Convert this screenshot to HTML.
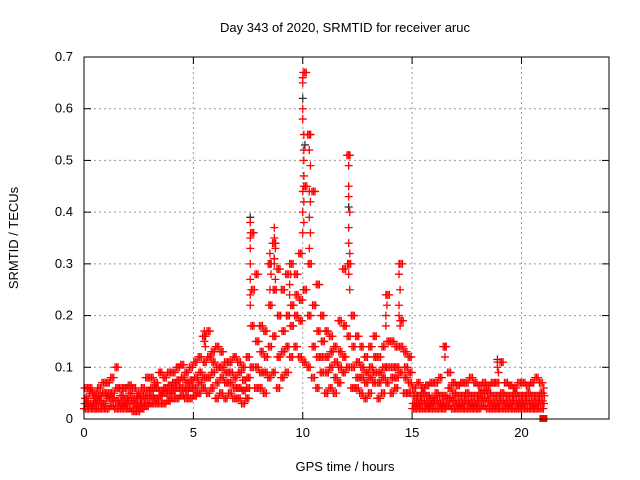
<!DOCTYPE html>
<html><head><meta charset="utf-8"><style>
body{margin:0;background:#fff}
svg{display:block;font-family:"Liberation Sans",sans-serif;font-size:12px}
</style></head><body>
<svg id="chart" width="640" height="480">
<text x="345" y="32" text-anchor="middle" font-size="13">Day 343 of 2020, SRMTID for receiver aruc</text>
<text x="345" y="471" text-anchor="middle" font-size="13">GPS time / hours</text>
<text transform="translate(18,238) rotate(-90)" text-anchor="middle" font-size="13">SRMTID / TECUs</text>
<g id="grid"></g><g id="ticks"></g><g id="marks"></g>
<rect x="84" y="57" width="525" height="362" fill="none" stroke="#000" stroke-width="1"/>
</svg>
<script>
const xTicks=[0,5,10,15,20];
const yTicks=[0,0.1,0.2,0.3,0.4,0.5,0.6,0.7];
const yTickLabels=["0","0.1","0.2","0.3","0.4","0.5","0.6","0.7"];
const binStart=0, binStep=0.2;
const lo=[.02,.02,.02,.02,.02,.02,.025,.02,.02,.02,.02,.015,.015,.02,.025,.03,.03,.03,.03,.035,.04,.04,.045,.04,.04,.045,.05,.06,.05,.06,.04,.05,.04,.05,.04,.04,.03,.04,.10,.06,.06,.05,.08,.09,.06,.08,.09,.12,.14,.12,.11,.1,.08,.06,.09,.05,.06,.05,.07,.09,.1,.06,.06,.05,.04,.05,.07,.04,.05,.07,.05,.06,.09,.05,.05,.02,.02,.02,.02,.02,.02,.02,.02,.025,.02,.02,.02,.02,.02,.02,.02,.025,.02,.02,.02,.02,.02,.02,.02,.02,.02,.02,.02,.02,.02,.02];
const m1=[.03,.03,.03,.035,.03,.04,.04,.035,.03,.03,.035,.03,.025,.03,.04,.045,.04,.045,.05,.05,.055,.06,.06,.055,.06,.06,.07,.08,.08,.09,.07,.08,.07,.07,.06,.06,.055,.06,.18,.10,.09,.09,.14,.16,.12,.13,.14,.18,.2,.19,.25,.2,.14,.12,.12,.09,.1,.08,.1,.12,.16,.1,.08,.08,.07,.08,.09,.07,.08,.1,.08,.08,.14,.08,.07,.03,.03,.035,.03,.03,.035,.03,.03,.04,.035,.03,.03,.035,.03,.03,.035,.04,.035,.03,.03,.035,.03,.03,.035,.03,.03,.035,.03,.03,.035,.03];
const m2=[.04,.05,.04,.045,.05,.05,.05,.06,.045,.04,.05,.04,.04,.045,.055,.06,.06,.055,.06,.065,.07,.075,.08,.07,.075,.08,.09,.11,.12,.11,.10,.10,.09,.09,.08,.09,.075,.08,.25,.15,.13,.12,.22,.25,.2,.17,.2,.22,.24,.23,.45,.3,.22,.17,.15,.12,.13,.11,.13,.18,.3,.14,.11,.1,.09,.1,.12,.09,.1,.15,.1,.1,.19,.1,.09,.045,.045,.05,.045,.04,.05,.045,.045,.06,.05,.045,.045,.05,.045,.045,.05,.055,.05,.045,.045,.05,.045,.045,.05,.045,.045,.05,.045,.045,.05,.045];
const hi=[.06,.06,.05,.06,.07,.07,.08,.10,.06,.06,.065,.06,.05,.06,.08,.08,.07,.09,.08,.09,.09,.10,.105,.09,.10,.11,.12,.16,.17,.13,.14,.13,.11,.11,.12,.11,.10,.12,.36,.28,.18,.17,.30,.34,.29,.25,.28,.30,.28,.32,.67,.55,.44,.26,.2,.17,.16,.14,.19,.29,.51,.2,.16,.14,.12,.14,.16,.12,.14,.24,.15,.14,.30,.13,.12,.06,.07,.06,.065,.07,.07,.08,.14,.09,.07,.065,.07,.07,.08,.07,.065,.07,.065,.07,.07,.11,.07,.065,.06,.07,.07,.065,.07,.08,.07,.06];
const spikeT=[7.6,7.6,7.6,7.6,7.6,7.6,7.6,10.0,10.0,10.0,10.0,10.05,10.05,10.05,10.05,10.0,10.05,10.0,10.05,10.0,10.3,10.3,10.35,10.3,10.35,10.3,10.35,10.3,12.1,12.1,12.1,12.1,12.15,12.1,12.1,12.15,12.1,12.1,12.15,14.4,14.4,14.45,14.4,14.4,14.45,13.8,13.85,13.8,13.8,8.7,8.7,8.75,8.7,8.7,8.75,8.5,8.5,8.55,8.5,9.4,9.45,9.4,9.4,5.5,5.55,5.5,5.55,16.5,16.5,18.9,18.9,18.95];
const spikeV=[.38,.35,.33,.3,.27,.24,.22,.66,.65,.6,.58,.55,.52,.5,.47,.44,.42,.4,.38,.36,.55,.52,.49,.44,.42,.39,.36,.33,.51,.49,.45,.43,.4,.37,.34,.32,.3,.28,.25,.3,.28,.25,.22,.2,.18,.24,.22,.2,.18,.37,.35,.33,.31,.3,.27,.32,.3,.28,.25,.3,.28,.26,.24,.17,.16,.15,.14,.14,.12,.11,.1,.09];
const darkT=[7.6,10.0,10.1,12.1,16.5,18.9,8.7];
const darkV=[.39,.62,.53,.41,.14,.115,.31];
const X=h=>84+h*525/24, Y=v=>419-v*362/0.7;
const ns="http://www.w3.org/2000/svg";
const grid=document.getElementById('grid'),ticks=document.getElementById('ticks'),marks=document.getElementById('marks');
function mk(tag,attrs,parent){const e=document.createElementNS(ns,tag);for(const k in attrs)e.setAttribute(k,attrs[k]);parent.appendChild(e);return e;}
xTicks.forEach(t=>{const x=X(t);
 if(t>0){const g=mk('line',{x1:x,y1:57,x2:x,y2:419,stroke:'#999','stroke-dasharray':'2,3'},grid);
 
 }
 mk('line',{x1:x,y1:419,x2:x,y2:412,stroke:'#000'},ticks);
 mk('line',{x1:x,y1:57,x2:x,y2:64,stroke:'#000'},ticks);
 const l=mk('text',{x:x,y:437,'text-anchor':'middle','font-size':13},ticks);l.textContent=t;
 
 
});
yTicks.forEach((v,i)=>{const y=Y(v);
 if(i>0&&i<yTicks.length-1){const g=mk('line',{x1:84,y1:y,x2:609,y2:y,stroke:'#999','stroke-dasharray':'2,3'},grid);
 
 }
 mk('line',{x1:84,y1:y,x2:91,y2:y,stroke:'#000'},ticks);
 mk('line',{x1:609,y1:y,x2:602,y2:y,stroke:'#000'},ticks);
 const l=mk('text',{x:73,y:y+4,'text-anchor':'end','font-size':13},ticks);l.textContent=yTickLabels[i];
 
 
});
function cross(t,v,col,name){const x=X(t),y=Y(v);
 const p=mk('path',{d:`M${x-4} ${y}H${x+4}M${x} ${y-4}V${y+4}`,stroke:col,'stroke-width':1.3,fill:'none'},marks);
 
 }
darkT.forEach((t,i)=>cross(t,darkV[i],'#333','dark-point'));
const series=[lo,m1,m2,hi],offs=[[0,0.07,0.14],[0.03,0.1,0.17],[0.05,0.12,0.19],[0.09,0.16,0.02]];
series.forEach((arr,s)=>arr.forEach((v,i)=>{offs[s].forEach(o=>{const t=binStart+i*binStep+o;if(t<=21.05)cross(t,v,'#f00','red-point');});}));
spikeT.forEach((t,i)=>cross(t,spikeV[i],'#f00','spike-point'));
const sq=mk('rect',{x:X(21)-4,y:Y(0)-4,width:8,height:7,fill:'#f00'},marks);


</script>
</body></html>
